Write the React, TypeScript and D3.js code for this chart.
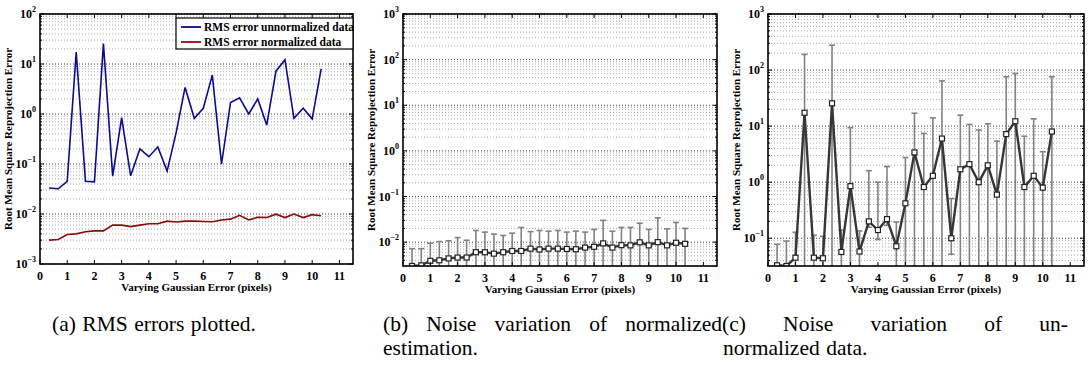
import React, { useRef, useEffect } from "react";
import * as d3 from "d3";

// gaussian noise level (pixels) for each trial
const noiseLevels = [0.33, 0.67, 1.0, 1.33, 1.67, 2.0, 2.33, 2.67, 3.0, 3.33, 3.67, 4.0, 4.33, 4.67, 5.0, 5.33, 5.67, 6.0, 6.33, 6.67, 7.0, 7.33, 7.67, 8.0, 8.33, 8.67, 9.0, 9.33, 9.67, 10.0, 10.33];
// RMS error, unnormalized data
const rmsUnnorm = [0.033, 0.032, 0.045, 17.3, 0.045, 0.044, 25.5, 0.057, 0.85, 0.058, 0.2, 0.14, 0.22, 0.072, 0.42, 3.4, 0.82, 1.3, 6.0, 0.1, 1.7, 2.1, 1.0, 2.0, 0.6, 7.2, 12.2, 0.82, 1.3, 0.8, 8.0];
// RMS error, normalized data
const rmsNorm = [0.003, 0.0031, 0.0039, 0.004, 0.0044, 0.0046, 0.0046, 0.006, 0.006, 0.0056, 0.006, 0.0064, 0.0064, 0.0072, 0.0069, 0.0072, 0.0072, 0.0071, 0.007, 0.0076, 0.0079, 0.0094, 0.0076, 0.0086, 0.0085, 0.0099, 0.0085, 0.01, 0.0085, 0.0097, 0.0092];
// error bar ends (null = runs below the axis)
const normUpper = [0.0072, 0.0072, 0.0095, 0.0103, 0.0107, 0.0126, 0.011, 0.018, 0.0166, 0.015, 0.014, 0.0157, 0.021, 0.017, 0.018, 0.0174, 0.018, 0.0166, 0.0174, 0.0166, 0.019, 0.03, 0.0174, 0.021, 0.021, 0.026, 0.019, 0.034, 0.0195, 0.027, 0.02];
const normLower = noiseLevels.map(() => null);
const unnormUpper = [0.078, 0.089, 0.128, 190, 0.113, 0.108, 278, 0.14, 9.4, 0.135, 1.6, 1.0, 1.9, 0.195, 2.75, 17, 7.4, 14, 64, 0.51, 15.7, 10.7, 8.5, 11, 5.4, 76, 87, 6.6, 13.5, 3.5, 76];
const unnormLower = [null, null, null, null, null, null, null, null, null, null, 0.157, 0.095, 0.17, null, null, null, null, null, null, 0.052, null, null, null, null, null, null, null, null, null, null, null];

const xTicks = [0, 1, 2, 3, 4, 5, 6, 7, 8, 9, 10, 11];
const legendLabels = ["RMS error unnormalized data", "RMS error normalized data"];
const lineColors = ["#0c0c8c", "#8c0c0c"];
const yLabel = "Root Mean Square Reprojection Error";
const xLabel = "Varying Gaussian Error (pixels)";

// sub-figure captions, one array per line
const captionA = ["(a)", "RMS", "errors", "plotted."];
const captionB1 = ["(b)", "Noise", "variation", "of", "normalized"];
const captionB2 = ["estimation."];
const captionC1 = ["(c)", "Noise", "variation", "of", "un-"];
const captionC2 = ["normalized", "data."];

const FONT = "'Liberation Serif', 'Times New Roman', serif";

const Panel = (props) => {
  const gRef = useRef(null);
  const w = props.right - props.left;
  const h = props.bottom - props.top;

  useEffect(() => {
    const g = d3.select(gRef.current);
    g.selectAll("*").remove();

    const xScale = d3.scaleLinear().domain([0, 11.5]).range([0, w]);
    const yScale = d3.scaleLog().domain(props.yDomain).range([h, 0]);
    const yMin = props.yDomain[0], yMax = props.yDomain[1];

    // log grid values
    const grid = [];
    const e0 = Math.floor(Math.log10(yMin)), e1 = Math.ceil(Math.log10(yMax));
    for (let e = e0; e <= e1; e++) {
      for (let m = 1; m < 10; m++) {
        const v = m * Math.pow(10, e);
        if (v >= yMin * 0.999 && v <= yMax * 1.001) grid.push({ v, e, major: m === 1 });
      }
    }

    g.append("g").selectAll("line").data(grid).enter().append("line")
      .attr("x1", 0).attr("x2", w)
      .attr("y1", d => yScale(d.v)).attr("y2", d => yScale(d.v))
      .attr("stroke", d => d.major ? "#444" : "#aaa")
      .attr("stroke-width", 1)
      .attr("stroke-dasharray", "1,2");

    const id = `clip-${props.name}`;
    g.append("clipPath").attr("id", id).append("rect").attr("x", 0).attr("y", 0).attr("width", w).attr("height", h);
    const plot = g.append("g").attr("clip-path", `url(#${id})`);

    if (props.mode === "rms") {
      [rmsUnnorm, rmsNorm].forEach((vals, i) => {
        const line = d3.line().x((_, j) => xScale(noiseLevels[j])).y(d => yScale(d));
        plot.append("path").datum(vals)
          .attr("d", line)
          .attr("fill", "none")
          .attr("stroke", lineColors[i])
          .attr("stroke-width", 1.6);
      });
    } else {
      const means = props.mode === "norm" ? rmsNorm : rmsUnnorm;
      const upper = props.mode === "norm" ? normUpper : unnormUpper;
      const lower = props.mode === "norm" ? normLower : unnormLower;
      const bars = plot.append("g").attr("stroke", "#828282").attr("stroke-width", 1.6);
      means.forEach((m, i) => {
        const cx = xScale(noiseLevels[i]);
        const yTop = yScale(upper[i]);
        const yBot = lower[i] == null ? h + 5 : yScale(lower[i]);
        bars.append("line").attr("x1", cx).attr("x2", cx).attr("y1", yTop).attr("y2", yBot);
        bars.append("line").attr("x1", cx - 3).attr("x2", cx + 3).attr("y1", yTop).attr("y2", yTop);
        if (lower[i] != null) bars.append("line").attr("x1", cx - 3).attr("x2", cx + 3).attr("y1", yBot).attr("y2", yBot);
      });
      const line = d3.line().x((_, j) => xScale(noiseLevels[j])).y(d => yScale(d));
      plot.append("path").datum(means)
        .attr("d", line)
        .attr("fill", "none")
        .attr("stroke", "#363636")
        .attr("stroke-width", 2.4);
      plot.append("g").selectAll("rect").data(means).enter().append("rect")
        .attr("x", (_, j) => xScale(noiseLevels[j]) - 2.5)
        .attr("y", d => yScale(d) - 2.5)
        .attr("width", 5).attr("height", 5)
        .attr("fill", "#fff")
        .attr("stroke", "#222")
        .attr("stroke-width", 1.2);
    }

    // ticks (inward, all four sides)
    const ticks = g.append("g").attr("stroke", "#000").attr("stroke-width", 1);
    xTicks.forEach(t => {
      const x = xScale(t);
      ticks.append("line").attr("x1", x).attr("x2", x).attr("y1", h).attr("y2", h - 4);
      ticks.append("line").attr("x1", x).attr("x2", x).attr("y1", 0).attr("y2", 4);
    });
    grid.forEach(d => {
      const y = yScale(d.v);
      const len = d.major ? 4 : 2;
      ticks.append("line").attr("x1", 0).attr("x2", len).attr("y1", y).attr("y2", y);
      ticks.append("line").attr("x1", w).attr("x2", w - len).attr("y1", y).attr("y2", y);
    });

    // frame
    g.append("rect").attr("x", 0).attr("y", 0).attr("width", w).attr("height", h)
      .attr("fill", "none").attr("stroke", "#000").attr("stroke-width", 1.6);

    // tick labels
    g.append("g").selectAll("text").data(xTicks).enter().append("text")
      .attr("x", d => xScale(d)).attr("y", h + 16)
      .attr("text-anchor", "middle")
      .attr("font-family", FONT).attr("font-weight", "bold").attr("font-size", 12)
      .text(d => d);

    const yl = g.append("g").selectAll("text").data(grid.filter(d => d.major)).enter().append("text")
      .attr("x", -4).attr("y", d => yScale(d.v) + 4)
      .attr("text-anchor", "end")
      .attr("font-family", FONT).attr("font-weight", "bold").attr("font-size", 12);
    yl.append("tspan").text("10");
    yl.append("tspan").attr("dy", -6).attr("font-size", 8).text(d => d.e < 0 ? `\u2212${-d.e}` : `${d.e}`);

    // axis labels
    g.append("text")
      .attr("transform", `translate(-28,${h / 2}) rotate(-90)`)
      .attr("text-anchor", "middle")
      .attr("font-family", FONT).attr("font-weight", "bold").attr("font-size", 11)
      .text(yLabel);
    g.append("text")
      .attr("x", w / 2).attr("y", h + 27)
      .attr("text-anchor", "middle")
      .attr("font-family", FONT).attr("font-weight", "bold").attr("font-size", 11)
      .text(xLabel);

    // legend
    if (props.mode === "rms") {
      const lg = g.append("g").attr("transform", `translate(${w - 177},4)`);
      lg.append("rect").attr("x", 0).attr("y", 0).attr("width", 177).attr("height", 31)
        .attr("fill", "#fff").attr("stroke", "#000").attr("stroke-width", 1.2);
      legendLabels.forEach((lab, i) => {
        const y = 9 + i * 15;
        lg.append("line").attr("x1", 5).attr("x2", 25).attr("y1", y).attr("y2", y)
          .attr("stroke", lineColors[i]).attr("stroke-width", 1.8);
        lg.append("text").attr("x", 28).attr("y", y + 4)
          .attr("font-family", FONT).attr("font-weight", "bold").attr("font-size", 11.5)
          .text(lab);
      });
    }
  // eslint-disable-next-line
  }, []);

  return <g ref={gRef} transform={`translate(${props.left},${props.top})`}></g>;
};

// captions: measured words, justified lines like the LaTeX layout
const Captions = () => {
  const ref = useRef(null);
  useEffect(() => {
    const g = d3.select(ref.current);
    g.selectAll("*").remove();
    const size = 21.5;
    const measure = (txt) => {
      const t = g.append("text").attr("font-family", FONT).attr("font-size", size).text(txt);
      const len = t.node().getComputedTextLength();
      t.remove();
      return len;
    };
    const space = measure("a a") - 2 * measure("a");

    const put = (words, x0, y, x1) => {
      const widths = words.map(wd => measure(wd));
      const total = d3.sum(widths);
      const gap = x1 == null ? space * 1.2 : Math.max(space, (x1 - x0 - total) / (words.length - 1));
      let x = x0;
      words.forEach((wd, i) => {
        g.append("text").attr("x", x).attr("y", y)
          .attr("font-family", FONT).attr("font-size", size).attr("fill", "#000")
          .text(wd);
        x += widths[i] + gap;
      });
    };
    put(captionA, 52, 331, null);
    put(captionB1, 383, 331, 722);
    put(captionB2, 383, 355, null);
    put(captionC1, 722, 331, 1068);
    put(captionC2, 723, 355, null);
  }, []);
  return <g ref={ref}></g>;
};

export default function App() {
  return (
    <svg width={1089} height={365} style={{ position: "absolute", left: 0, top: 0, background: "#fff" }}>
      <Panel name="a" mode="rms" left={40} right={353} top={14} bottom={264} yDomain={[0.001, 100]} />
      <Panel name="b" mode="norm" left={403} right={717} top={14} bottom={266} yDomain={[0.003, 1000]} />
      <Panel name="c" mode="unnorm" left={768} right={1084} top={14} bottom={266} yDomain={[0.032, 1000]} />
      <Captions />
    </svg>
  );
}
